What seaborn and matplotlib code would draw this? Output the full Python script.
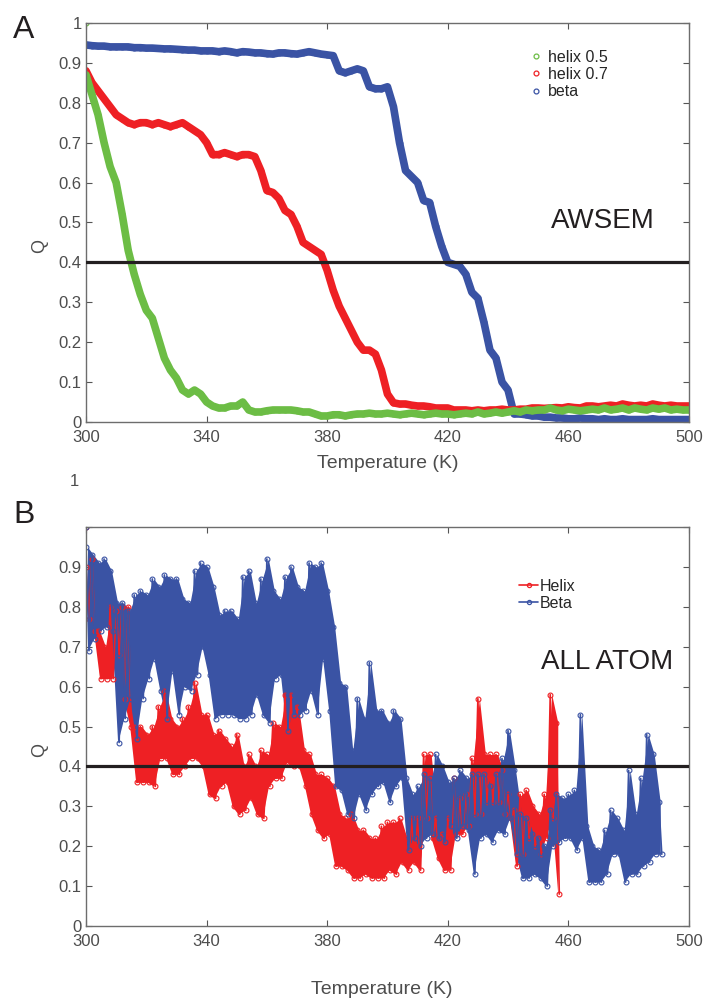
import matplotlib
matplotlib.use('Agg')
import matplotlib.pyplot as plt
from matplotlib.lines import Line2D
import seaborn as sns

# ---- panel A (AWSEM): Q read every 2 K ----
a_temp = list(range(300, 502, 2))
a_helix05 = [0.87, 0.82, 0.77, 0.70, 0.64, 0.60, 0.52, 0.43, 0.37, 0.32,
             0.28, 0.26, 0.21, 0.16, 0.13, 0.11, 0.08, 0.07, 0.08, 0.07,
             0.05, 0.04, 0.035, 0.035, 0.04, 0.04, 0.05, 0.03, 0.025, 0.025,
             0.028, 0.03, 0.03, 0.03, 0.03, 0.028, 0.025, 0.025, 0.02, 0.015,
             0.015, 0.018, 0.018, 0.015, 0.018, 0.02, 0.02, 0.022, 0.02, 0.02,
             0.022, 0.02, 0.018, 0.02, 0.022, 0.02, 0.018, 0.02, 0.022, 0.02,
             0.02, 0.018, 0.02, 0.022, 0.02, 0.025, 0.02, 0.022, 0.025, 0.022,
             0.025, 0.028, 0.025, 0.03, 0.028, 0.03, 0.03, 0.035, 0.03, 0.028,
             0.032, 0.03, 0.028, 0.03, 0.032, 0.03, 0.035, 0.03, 0.032, 0.035,
             0.03, 0.035, 0.032, 0.03, 0.035, 0.032, 0.035, 0.03, 0.032, 0.03,
             0.03]
a_helix07 = [0.88, 0.85, 0.83, 0.81, 0.79, 0.77, 0.76, 0.75, 0.745, 0.75,
             0.75, 0.745, 0.75, 0.745, 0.74, 0.745, 0.75, 0.74, 0.73, 0.72,
             0.70, 0.67, 0.67, 0.675, 0.67, 0.665, 0.67, 0.67, 0.665, 0.63,
             0.58, 0.575, 0.56, 0.53, 0.52, 0.49, 0.45, 0.44, 0.43, 0.42,
             0.38, 0.33, 0.29, 0.26, 0.23, 0.20, 0.18, 0.18, 0.17, 0.13,
             0.07, 0.048, 0.045, 0.045, 0.042, 0.04, 0.04, 0.038, 0.035, 0.035,
             0.035, 0.03, 0.03, 0.03, 0.028, 0.03, 0.028, 0.03, 0.03, 0.032,
             0.03, 0.03, 0.032, 0.032, 0.035, 0.035, 0.034, 0.035, 0.036, 0.035,
             0.038, 0.036, 0.035, 0.04, 0.04, 0.038, 0.04, 0.042, 0.04, 0.045,
             0.042, 0.04, 0.042, 0.04, 0.045, 0.042, 0.04, 0.042, 0.04, 0.04,
             0.04]
a_beta = [0.945, 0.943, 0.942, 0.942, 0.94, 0.94, 0.94, 0.94, 0.938, 0.938,
          0.937, 0.937, 0.936, 0.935, 0.935, 0.934, 0.933, 0.932, 0.932, 0.93,
          0.93, 0.93, 0.928, 0.93, 0.928, 0.925, 0.928, 0.927, 0.925, 0.925,
          0.923, 0.922, 0.925, 0.925, 0.923, 0.922, 0.925, 0.928, 0.925, 0.922,
          0.92, 0.918, 0.88, 0.875, 0.88, 0.885, 0.88, 0.84, 0.835, 0.835,
          0.84, 0.79, 0.70, 0.63, 0.615, 0.60, 0.555, 0.55, 0.49, 0.44,
          0.40, 0.395, 0.39, 0.37, 0.325, 0.31, 0.25, 0.18, 0.16, 0.10,
          0.08, 0.02, 0.02, 0.018, 0.015, 0.015, 0.012, 0.012, 0.01, 0.01,
          0.008, 0.008, 0.01, 0.008, 0.008, 0.006, 0.008, 0.006, 0.006, 0.008,
          0.006, 0.006, 0.006, 0.006, 0.008, 0.006, 0.006, 0.006, 0.006, 0.006,
          0.006]
a_start_q = 1.0

# ---- panel B (all atom): top / bottom of the trace in each 2 K bin ----
b_start_q = 1.0
b_temp_beta = list(range(300, 492, 2))
b_beta_hi = [0.95, 0.93, 0.91, 0.92, 0.89, 0.81, 0.81, 0.79, 0.83, 0.84,
             0.83, 0.87, 0.85, 0.88, 0.87, 0.87, 0.82, 0.81, 0.89, 0.91,
             0.90, 0.85, 0.78, 0.79, 0.79, 0.77, 0.875, 0.89, 0.81, 0.87,
             0.92, 0.84, 0.82, 0.875, 0.90, 0.85, 0.84, 0.91, 0.90, 0.91,
             0.84, 0.75, 0.61, 0.60, 0.44, 0.57, 0.52, 0.66, 0.54, 0.54,
             0.51, 0.54, 0.52, 0.37, 0.33, 0.35, 0.38, 0.37, 0.43, 0.40,
             0.36, 0.37, 0.39, 0.37, 0.38, 0.38, 0.38, 0.35, 0.38, 0.42,
             0.49, 0.39, 0.28, 0.27, 0.23, 0.22, 0.20, 0.29, 0.33, 0.32,
             0.33, 0.34, 0.53, 0.25, 0.20, 0.19, 0.24, 0.29, 0.27, 0.24,
             0.39, 0.28, 0.37, 0.48, 0.43, 0.31]
b_beta_lo = [0.69, 0.72, 0.74, 0.75, 0.74, 0.46, 0.52, 0.57, 0.47, 0.57,
             0.62, 0.67, 0.59, 0.52, 0.64, 0.53, 0.60, 0.59, 0.63, 0.70,
             0.63, 0.52, 0.53, 0.53, 0.53, 0.52, 0.52, 0.53, 0.58, 0.53,
             0.51, 0.62, 0.63, 0.49, 0.53, 0.53, 0.54, 0.59, 0.53, 0.67,
             0.54, 0.35, 0.34, 0.28, 0.27, 0.33, 0.29, 0.33, 0.35, 0.36,
             0.31, 0.35, 0.37, 0.19, 0.22, 0.20, 0.22, 0.23, 0.22, 0.21,
             0.25, 0.22, 0.25, 0.24, 0.13, 0.22, 0.23, 0.21, 0.24, 0.23,
             0.27, 0.18, 0.12, 0.12, 0.13, 0.12, 0.10, 0.20, 0.21, 0.22,
             0.22, 0.19, 0.22, 0.11, 0.11, 0.11, 0.13, 0.18, 0.18, 0.11,
             0.13, 0.13, 0.15, 0.16, 0.18, 0.18]
b_temp_helix = list(range(300, 458, 2))
b_helix_hi = [0.90, 0.92, 0.74, 0.70, 0.80, 0.79, 0.80, 0.80, 0.50, 0.50,
              0.48, 0.50, 0.55, 0.59, 0.52, 0.50, 0.52, 0.55, 0.61, 0.53,
              0.53, 0.48, 0.49, 0.47, 0.45, 0.48, 0.40, 0.43, 0.40, 0.44,
              0.43, 0.51, 0.50, 0.58, 0.58, 0.55, 0.44, 0.43, 0.38, 0.38,
              0.37, 0.35, 0.28, 0.27, 0.28, 0.24, 0.24, 0.22, 0.22, 0.25,
              0.26, 0.26, 0.27, 0.22, 0.27, 0.27, 0.43, 0.43, 0.27, 0.23,
              0.27, 0.37, 0.32, 0.33, 0.42, 0.57, 0.43, 0.43, 0.43, 0.39,
              0.33, 0.29, 0.33, 0.34, 0.30, 0.28, 0.33, 0.58, 0.51]
b_helix_lo = [0.77, 0.74, 0.62, 0.62, 0.62, 0.68, 0.57, 0.50, 0.36, 0.36,
              0.36, 0.35, 0.42, 0.42, 0.38, 0.38, 0.40, 0.42, 0.42, 0.40,
              0.33, 0.32, 0.35, 0.36, 0.30, 0.28, 0.29, 0.32, 0.28, 0.27,
              0.35, 0.37, 0.37, 0.41, 0.40, 0.40, 0.35, 0.28, 0.24, 0.22,
              0.23, 0.15, 0.15, 0.14, 0.12, 0.12, 0.13, 0.12, 0.12, 0.12,
              0.14, 0.13, 0.16, 0.14, 0.16, 0.14, 0.27, 0.22, 0.17, 0.14,
              0.14, 0.23, 0.23, 0.25, 0.28, 0.28, 0.31, 0.31, 0.31, 0.28,
              0.27, 0.15, 0.18, 0.22, 0.20, 0.18, 0.22, 0.27, 0.08]

x_ticks = [300, 340, 380, 420, 460, 500]
y_ticks = [0, 0.1, 0.2, 0.3, 0.4, 0.5, 0.6, 0.7, 0.8, 0.9, 1]
y_labels = ['0', '0.1', '0.2', '0.3', '0.4', '0.5', '0.6', '0.7', '0.8', '0.9', '1']

GREEN = '#6cbd45'
RED = '#ee2024'
BLUE = '#3a53a4'
INK = '#231f20'

sns.set_style('ticks')
plt.rcParams['font.family'] = ['Liberation Sans', 'DejaVu Sans']


def zigzag(temps, hi, lo, start):
    xs, ys = [temps[0]], [start]
    for t, h, l in zip(temps, hi, lo):
        xs += [t, t + 1]
        ys += [h, l]
    return xs, ys


def style_axes(ax, labels):
    ax.set_xlim(300, 500)
    ax.set_ylim(0, 1)
    ax.set_xticks(x_ticks)
    ax.set_yticks(y_ticks)
    ax.set_yticklabels(labels)
    ax.tick_params(direction='in', top=True, right=True, length=4.5, width=0.8,
                   color='#555555', labelcolor='#4d4d4d', labelsize=12, pad=3)
    ax.tick_params(axis='x', pad=6)
    for sp in ax.spines.values():
        sp.set_color('#6d6d6d')
        sp.set_linewidth(1.0)
    ax.axhline(0.4, color=INK, lw=2.3, zorder=5)
    ax.set_ylabel('Q', fontsize=13, color='#4d4d4d')
    ax.yaxis.set_label_coords(-0.062, 0.44)


fig = plt.figure(figsize=(7.06, 9.98), dpi=100)
ax1 = fig.add_axes([0.1218, 0.5772, 0.854, 0.3998])
ax2 = fig.add_axes([0.1218, 0.0721, 0.854, 0.3998])

# panel A
for series, col in [(a_beta, BLUE), (a_helix07, RED), (a_helix05, GREEN)]:
    sns.lineplot(x=a_temp, y=series, ax=ax1, color=col, lw=5.5, marker='o', ms=3.5,
                 mfc='none', mec=col, mew=0.8, estimator=None, sort=False)
ax1.plot([300], [a_start_q], 'o', ms=3.5, mfc='none', mec=GREEN, mew=0.8)
style_axes(ax1, y_labels)
ax1.set_xlabel('Temperature (K)', fontsize=14, color='#4d4d4d')
ax1.xaxis.set_label_coords(0.5, -0.083)
ax1.text(0.771, 0.485, 'AWSEM', transform=ax1.transAxes, fontsize=20, color=INK)
hA = [Line2D([], [], ls='none', marker='o', ms=3.5, mfc='none', mec=c, mew=0.9)
      for c in (GREEN, RED, BLUE)]
ax1.legend(hA, ['helix 0.5', 'helix 0.7', 'beta'], loc='upper left',
           bbox_to_anchor=(0.723, 0.953), frameon=False, fontsize=11.5,
           handlelength=0.8, handletextpad=0.35, labelspacing=0.15, borderpad=0)

# panel B: solid band between bin extremes, zigzag trace with markers on top
for temps, hi, lo, col in [(b_temp_helix, b_helix_hi, b_helix_lo, RED),
                           (b_temp_beta, b_beta_hi, b_beta_lo, BLUE)]:
    xs, ys = zigzag(temps, hi, lo, b_start_q)
    ax2.fill_between([t + 0.5 for t in temps], lo, hi, color=col, lw=0)
    sns.lineplot(x=xs, y=ys, ax=ax2, color=col, lw=1.2, marker='o', ms=3.5,
                 mfc='none', mec=col, mew=0.8, estimator=None, sort=False)
style_axes(ax2, y_labels[:-1] + [''])
ax2.set_xlabel('Temperature (K)', fontsize=14, color='#4d4d4d')
ax2.xaxis.set_label_coords(0.49, -0.137)
ax2.text(0.755, 0.645, 'ALL ATOM', transform=ax2.transAxes, fontsize=20, color=INK)
hB = [Line2D([], [], color=c, lw=1.2, marker='o', ms=3, mfc='none', mec=c, mew=0.9)
      for c in (RED, BLUE)]
ax2.legend(hB, ['Helix', 'Beta'], loc='upper left', bbox_to_anchor=(0.705, 0.89),
           frameon=False, fontsize=11.5, handlelength=1.2, handletextpad=0.1,
           labelspacing=0.1, borderpad=0)
fig.text(74 / 706, 1 - 482 / 998, '1', fontsize=12, color='#4d4d4d',
         ha='center', va='center')

fig.text(0.034, 0.97, 'A', fontsize=23, color=INK, va='center', ha='center')
fig.text(0.034, 0.484, 'B', fontsize=23, color=INK, va='center', ha='center')

fig.savefig('out.png', dpi=100)
